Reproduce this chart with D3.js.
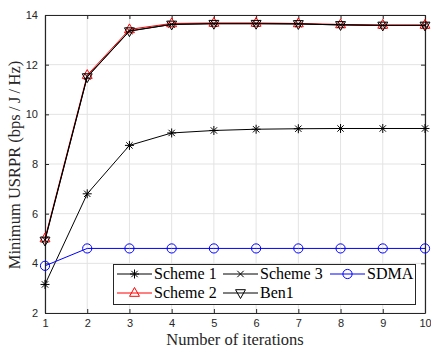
<!DOCTYPE html>
<html><head><meta charset="utf-8">
<script src="https://cdn.jsdelivr.net/npm/d3@7"></script>
<style>body{margin:0;background:#fff}svg{display:block}</style>
</head><body>
<svg id="c" width="431" height="348"></svg>
<script>
const iterations = [1,2,3,4,5,6,7,8,9,10];
const scheme1 = [3.15, 6.8, 8.75, 9.25, 9.35, 9.4, 9.42, 9.43, 9.43, 9.43];
const scheme2 = [5.0, 11.58, 13.42, 13.66, 13.68, 13.68, 13.66, 13.62, 13.6, 13.6];
const scheme3 = [4.95, 11.52, 13.36, 13.62, 13.65, 13.65, 13.64, 13.6, 13.58, 13.58];
const ben1 = [4.92, 11.5, 13.35, 13.62, 13.65, 13.65, 13.64, 13.6, 13.58, 13.58];
const sdma = [3.9, 4.6, 4.6, 4.6, 4.6, 4.6, 4.6, 4.6, 4.6, 4.6];
const xTicks = [1,2,3,4,5,6,7,8,9,10];
const yTicks = [2,4,6,8,10,12,14];

const svg = d3.select('#c');
const L=45, R=425, T=15, B=313;
const x = d3.scaleLinear().domain([1,10]).range([L,R]);
const y = d3.scaleLinear().domain([2,14]).range([B,T]);

// grid
const g = svg.append('g');
g.selectAll('.gx').data(xTicks).enter().append('line')
  .attr('x1',d=>x(d)).attr('x2',d=>x(d)).attr('y1',T).attr('y2',B)
  .attr('stroke','#e3e3e3').attr('stroke-width',1);
g.selectAll('.gy').data(yTicks).enter().append('line')
  .attr('y1',d=>y(d)).attr('y2',d=>y(d)).attr('x1',L).attr('x2',R)
  .attr('stroke','#e3e3e3').attr('stroke-width',1);

// axes
const axCol='#262626';
const xb = svg.append('g').attr('transform',`translate(0,${B})`)
  .call(d3.axisBottom(x).tickValues(xTicks).tickSizeInner(-4).tickSizeOuter(0).tickPadding(6));
const xt = svg.append('g').attr('transform',`translate(0,${T})`)
  .call(d3.axisTop(x).tickValues(xTicks).tickSizeInner(-4).tickSizeOuter(0).tickFormat(''));
const yl = svg.append('g').attr('transform',`translate(${L},0)`)
  .call(d3.axisLeft(y).tickValues(yTicks).tickSizeInner(-4).tickSizeOuter(0).tickPadding(7));
const yr = svg.append('g').attr('transform',`translate(${R},0)`)
  .call(d3.axisRight(y).tickValues(yTicks).tickSizeInner(-4).tickSizeOuter(0).tickFormat(''));
[xb,xt,yl,yr].forEach(a=>{
  a.selectAll('path').attr('stroke',axCol).attr('stroke-width',1.2);
  a.selectAll('line').attr('stroke',axCol);
  a.selectAll('text').attr('fill',axCol).style('font-family','Liberation Sans, Arial, sans-serif').style('font-size','11px');
});

// markers
function marker(sel, type, color){
  if(type==='star'){
    const r=4.5;
    const p = [];
    [0,45,90,135].forEach(a=>{const t=a*Math.PI/180; p.push(`M${-r*Math.cos(t)},${-r*Math.sin(t)}L${r*Math.cos(t)},${r*Math.sin(t)}`);});
    sel.append('path').attr('d',p.join('')).attr('stroke',color).attr('stroke-width',1).attr('fill','none');
  } else if(type==='x'){
    const r=3.2;
    sel.append('path').attr('d',`M${-r},${-r}L${r},${r}M${-r},${r}L${r},${-r}`).attr('stroke',color).attr('stroke-width',1).attr('fill','none');
  } else if(type==='up'){
    const r=5.5;
    sel.append('path').attr('d',`M0,${-r}L${r*0.9},${r*0.6}L${-r*0.9},${r*0.6}Z`).attr('stroke',color).attr('stroke-width',1).attr('fill','none');
  } else if(type==='down'){
    const r=5.5;
    sel.append('path').attr('d',`M0,${r}L${r*0.9},${-r*0.6}L${-r*0.9},${-r*0.6}Z`).attr('stroke',color).attr('stroke-width',1).attr('fill','none');
  } else if(type==='circle'){
    sel.append('circle').attr('r',4.6).attr('stroke',color).attr('stroke-width',1).attr('fill','none');
  }
}

const series = [
  {name:'Scheme 1', data:scheme1, color:'#000000', m:'star'},
  {name:'Scheme 2', data:scheme2, color:'#ff0000', m:'up'},
  {name:'Scheme 3', data:scheme3, color:'#000000', m:'x'},
  {name:'Ben1', data:ben1, color:'#000000', m:'down'},
  {name:'SDMA', data:sdma, color:'#0000ff', m:'circle'}
];
const line = d3.line().x((d,i)=>x(iterations[i])).y(d=>y(d));
series.forEach(s=>{
  svg.append('path').datum(s.data).attr('d',line).attr('fill','none').attr('stroke',s.color).attr('stroke-width',1);
  s.data.forEach((v,i)=>{
    const gg = svg.append('g').attr('transform',`translate(${x(iterations[i])},${y(v)})`);
    marker(gg,s.m,s.color);
  });
});

// legend
const lg = svg.append('g');
lg.append('rect').attr('x',113.5).attr('y',264.5).attr('width',302).attr('height',40)
  .attr('fill','#fff').attr('stroke',axCol).attr('stroke-width',1);
const cols=[117,223,330], rows=[274,293];
const order=[[0,0,0],[1,0,1],[2,1,0],[3,1,1],[4,2,0]];
order.forEach(([si,c,r])=>{
  const s=series[si]; const x0=cols[c], yy=rows[r];
  lg.append('line').attr('x1',x0).attr('x2',x0+35).attr('y1',yy).attr('y2',yy).attr('stroke',s.color).attr('stroke-width',1);
  marker(lg.append('g').attr('transform',`translate(${x0+17.5},${yy})`), s.m, s.color);
  lg.append('text').attr('x',x0+37).attr('y',yy+5).text(s.name)
    .style('font-family','Liberation Serif, Times New Roman, serif').style('font-size','16px').attr('fill','#000');
});

// labels
svg.append('text').attr('x',(L+R)/2).attr('y',345).attr('text-anchor','middle')
  .text('Number of iterations').style('font-family','Liberation Serif, serif').style('font-size','16.5px').attr('fill',axCol);
svg.append('text').attr('transform',`translate(20,${(T+B)/2+1}) rotate(-90)`).attr('text-anchor','middle')
  .text('Minimum USRPR (bps\u2009/\u2009J\u2009/\u2009Hz)').style('font-family','Liberation Serif, serif').style('font-size','16.5px').attr('fill',axCol);
</script>
</body></html>
